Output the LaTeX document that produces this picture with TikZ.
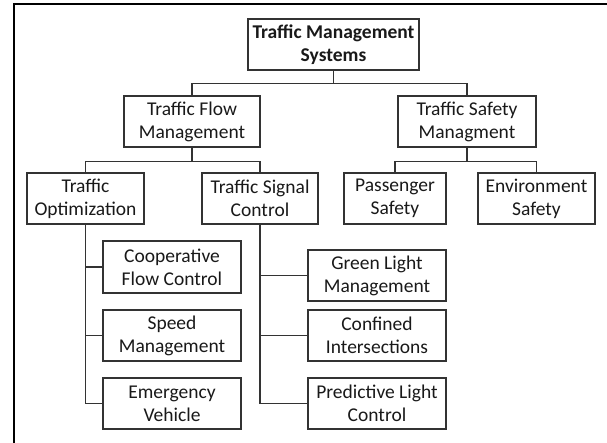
\documentclass[tikz,border=0pt]{standalone}
\usepackage{fontspec}
\setmainfont{Carlito}

\begin{document}
\begin{tikzpicture}[x=1pt, y=-1pt,
  box/.style={draw=black!80, line width=1.1pt, fill=white, align=center, inner sep=0pt,
    minimum height=51pt, text=black!90, font=\fontsize{19.5}{23}\selectfont},
  rootbox/.style={box, font=\fontsize{19.5}{23}\selectfont\bfseries},
  link/.style={draw=black!80, line width=1.1pt}]
  % Define parameters
  \def\drop{13}  % Drop from a box to its bus line
  \def\W{138}    % Width of the leaf boxes

  % Fix the canvas
  \useasboundingbox (0,0) rectangle (607,443);

  % Draw the frame
  \draw[line width=2.5pt] (14,443) -- (14,4) -- (607,4);

  % Draw the boxes
  \node[rootbox, minimum width=171pt] (tms) at (333.5,44.5) {Traffic Management\\Systems};
  \node[box, minimum width=136pt] (flow) at (192,121.5) {Traffic Flow\\Management};
  \node[box, minimum width=138pt] (safety) at (467,121.5) {Traffic Safety\\Managment};
  \node[box, minimum width=117pt] (optim) at (85.5,198.5) {Traffic\\Optimization};
  \node[box, minimum width=116pt] (signal) at (260,198.5) {Traffic Signal\\Control};
  \node[box, minimum width=102pt] (passenger) at (395,198.5) {Passenger\\Safety};
  \node[box, minimum width=117pt] (environment) at (536.5,198.5) {Environment\\Safety};
  \node[box, minimum width=\W pt, minimum height=52pt] (coop) at (172,267) {Cooperative\\Flow Control};
  \node[box, minimum width=\W pt] (speed) at (172,335.5) {Speed\\Management};
  \node[box, minimum width=\W pt] (emergency) at (172,403.5) {Emergency\\Vehicle};
  \node[box, minimum width=\W pt] (green) at (377,275.5) {Green Light\\Management};
  \node[box, minimum width=\W pt] (confined) at (377,335.5) {Confined\\Intersections};
  \node[box, minimum width=\W pt] (predict) at (377,403.5) {Predictive Light\\Control};

  % Draw the tree links
  \draw[link] (tms.south) -- ++(0,\drop) -| (flow.north);
  \draw[link] (tms.south) ++(0,\drop) -| (safety.north);
  \draw[link] (flow.south) -- ++(0,\drop+1) -| (optim.north);
  \draw[link] (flow.south) ++(0,\drop+1) -| (signal.north);
  \draw[link] (safety.south) -- ++(0,\drop+1) -| (passenger.north);
  \draw[link] (safety.south) ++(0,\drop+1) -| (environment.north);

  % Draw the side links
  \foreach \leaf in {coop, speed, emergency}
    \draw[link] (optim.south) |- (\leaf.west);
  \foreach \leaf in {green, confined, predict}
    \draw[link] (signal.south) |- (\leaf.west);

\end{tikzpicture}
\end{document}
